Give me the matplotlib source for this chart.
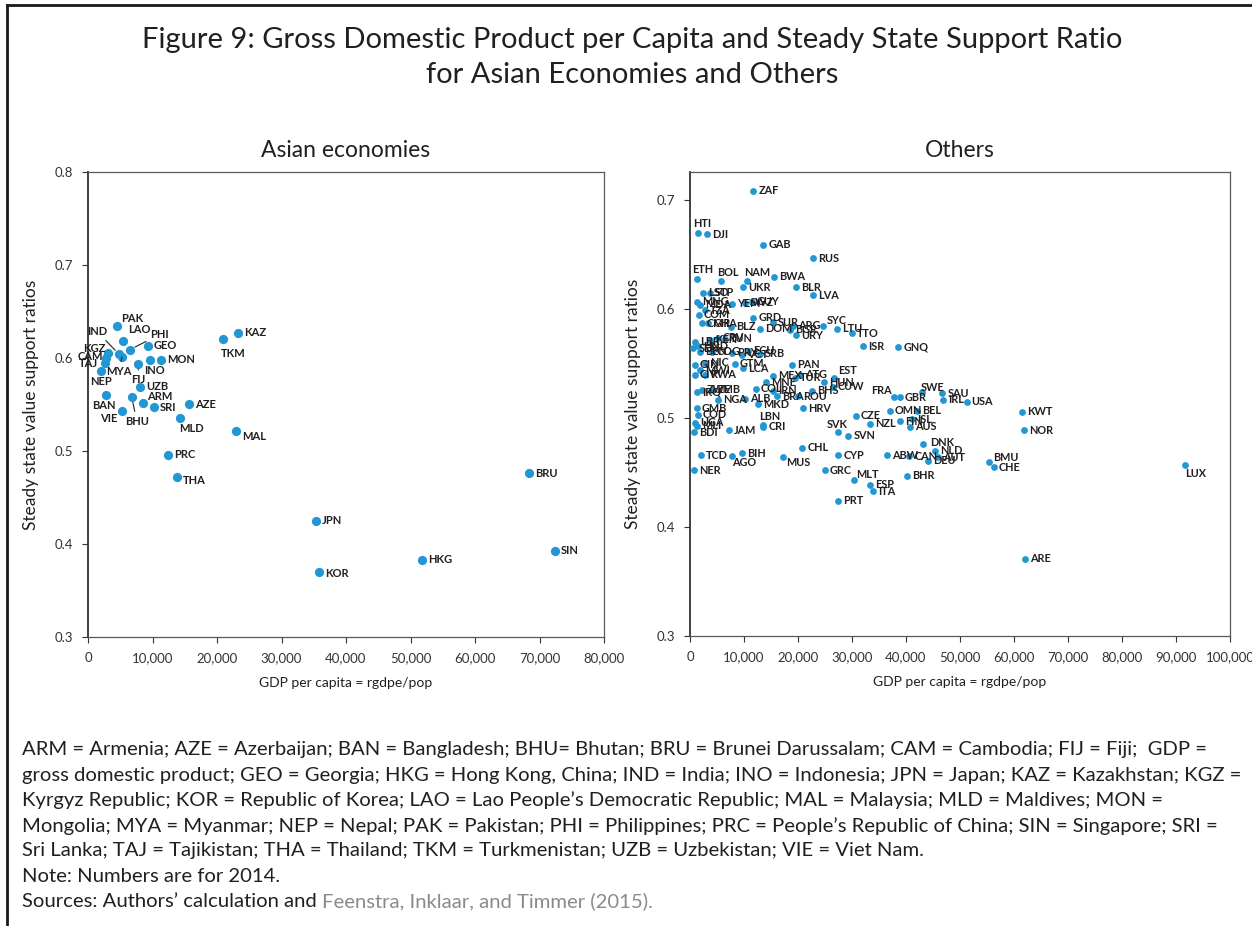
import matplotlib
matplotlib.use("Agg")
import matplotlib.pyplot as plt
from matplotlib.ticker import FuncFormatter, MultipleLocator
from matplotlib.lines import Line2D
from matplotlib.text import Annotation

plt.rcParams['font.family'] = ['Lato', 'DejaVu Sans']

# ---- data: GDP per capita (rgdpe/pop) and steady state support ratio, 2014
asia_codes = ["PAK", "LAO", "PHI", "GEO", "IND", "MYA", "KGZ", "CAM", "TAJ", "NEP",
              "INO", "FIJ", "MON", "UZB", "BAN", "BHU", "ARM", "SRI", "VIE", "AZE",
              "MLD", "MAL", "TKM", "KAZ", "PRC", "THA", "JPN", "KOR", "HKG", "BRU", "SIN"]
asia_gdp = [4540, 5380, 6510, 9260, 4810, 5270, 3150, 2790, 2640, 1970,
            9660, 7800, 11320, 8060, 2740, 6780, 8480, 10230, 5230, 15700,
            14260, 22950, 20880, 23300, 12400, 13800, 35350, 35810, 51780, 68370, 72400]
asia_ratio = [0.634, 0.618, 0.609, 0.613, 0.604, 0.601, 0.605, 0.600, 0.595, 0.586,
              0.598, 0.594, 0.598, 0.569, 0.560, 0.558, 0.552, 0.547, 0.543, 0.550,
              0.536, 0.521, 0.620, 0.627, 0.496, 0.472, 0.425, 0.370, 0.383, 0.476, 0.393]

other_codes = ["ZAF", "HTI", "DJI", "GAB", "RUS", "ETH", "BOL", "NAM", "BWA", "UKR",
               "BLR", "LVA", "LSO", "STP", "MNG", "MDA", "YEM", "SWZ", "GUY", "TZA",
               "COM", "GHA", "CMR", "GRD", "SUR", "ARG", "BGR", "URY", "SYC", "LTU",
               "TTO", "ISR", "GNQ", "KEN", "BLZ", "DOM", "TUN", "CPV", "LBR", "HND",
               "SEN", "BEN", "COG", "VCT", "SRB", "ECU", "PRY", "GIN", "NIC", "MWI",
               "CIV", "RWA", "GTM", "LCA", "PAN", "MEX", "ATG", "TUR", "MNE", "EST",
               "HUN", "CUW", "BHS", "ROU", "IRN", "BRA", "COL", "ALB", "MKD", "NGA",
               "ZMB", "IRQ", "ZWE", "HRV", "GMB", "COD", "UGA", "MLI", "BDI", "JAM",
               "LBN", "CRI", "SVK", "SVN", "CZE", "NZL", "FIN", "ISL", "AUS", "OMN",
               "BEL", "FRA", "GBR", "SWE", "SAU", "IRL", "USA", "KWT", "NOR", "DNK",
               "NLD", "AUT", "CAN", "ABW", "DEU", "CYP", "CHL", "MUS", "BIH", "AGO",
               "TCD", "NER", "GRC", "MLT", "ESP", "ITA", "PRT", "BHR", "BMU", "CHE",
               "LUX", "ARE"]
other_gdp = [11720, 1540, 3090, 13570, 22830, 1240, 5740, 10500, 15560, 9870,
             19570, 22720, 2460, 3700, 1240, 1850, 7720, 10190, 11480, 2780,
             1670, 3390, 2170, 11720, 15370, 19070, 18520, 19630, 24630, 27170,
             30060, 32090, 38570, 3700, 7590, 12960, 6480, 5190, 930, 1540,
             610, 1850, 4070, 9630, 12960, 10740, 7780, 930, 2780, 1850,
             930, 2780, 8330, 9870, 18940, 15310, 20370, 19440, 14070, 26670,
             24870, 26480, 22540, 20060, 15370, 16060, 12220, 10190, 12650, 5240,
             4070, 1240, 2170, 20870, 1240, 1480, 930, 1350, 740, 7220,
             13460, 13570, 27460, 29310, 30690, 33330, 38890, 41110, 40740, 37040,
             41980, 37780, 38890, 42910, 46720, 46910, 51240, 61480, 61850, 43200,
             45370, 45980, 40610, 36430, 44130, 27460, 20800, 17280, 9690, 7720,
             1980, 800, 25000, 30430, 33330, 33830, 27460, 40130, 55370, 56300,
             91610, 61980]
other_ratio = [0.709, 0.670, 0.669, 0.659, 0.647, 0.628, 0.626, 0.626, 0.630, 0.620,
               0.620, 0.613, 0.615, 0.615, 0.607, 0.604, 0.605, 0.606, 0.607, 0.599,
               0.595, 0.587, 0.587, 0.592, 0.588, 0.585, 0.581, 0.576, 0.585, 0.582,
               0.578, 0.566, 0.565, 0.572, 0.584, 0.582, 0.573, 0.574, 0.570, 0.566,
               0.564, 0.561, 0.561, 0.558, 0.559, 0.562, 0.560, 0.549, 0.551, 0.544,
               0.540, 0.540, 0.550, 0.546, 0.549, 0.539, 0.540, 0.537, 0.533, 0.537,
               0.533, 0.529, 0.525, 0.520, 0.525, 0.520, 0.527, 0.518, 0.513, 0.517,
               0.526, 0.524, 0.526, 0.509, 0.509, 0.503, 0.496, 0.493, 0.487, 0.489,
               0.494, 0.492, 0.487, 0.484, 0.502, 0.495, 0.497, 0.499, 0.492, 0.507,
               0.507, 0.519, 0.519, 0.524, 0.523, 0.517, 0.515, 0.506, 0.489, 0.476,
               0.470, 0.464, 0.465, 0.466, 0.461, 0.466, 0.473, 0.464, 0.468, 0.465,
               0.466, 0.452, 0.452, 0.443, 0.439, 0.433, 0.424, 0.447, 0.460, 0.455,
               0.457, 0.371]

asia_xticks = [0, 10000, 20000, 30000, 40000, 50000, 60000, 70000, 80000]
other_xticks = [0, 10000, 20000, 30000, 40000, 50000, 60000, 70000, 80000, 90000, 100000]

# label placement (offset in pixels, ha, leader line)
asia_pos = {
    "PAK": (4, 8, "left", False), "LAO": (5, 12, "left", False),
    "PHI": (20, 15, "left", True), "IND": (-12, 23, "right", True),
    "KGZ": (-3, 5, "right", False), "CAM": (-3, 1, "right", False),
    "TAJ": (-7, -1, "right", False), "NEP": (0, -10, "center", False),
    "MYA": (-3, -14, "center", True), "INO": (-6, -11, "left", False),
    "FIJ": (0, -16, "center", True), "BAN": (-2, -10, "center", False),
    "BHU": (5, -24, "center", True), "ARM": (4, 6, "left", False),
    "VIE": (-4, -7, "right", False), "MLD": (11, -11, "center", False),
    "MAL": (6, -5, "left", False), "TKM": (11, -14, "center", False),
    "THA": (6, -3, "left", False), "KOR": (6, -2, "left", False),
}
other_pos = {
    "HTI": (4, 9, "center"), "ETH": (6, 9, "center"), "BOL": (7, 8, "center"),
    "NAM": (10, 8, "center"), "SYC": (14, 5, "center"), "SWE": (11, 5, "center"),
    "DNK": (7, 2, "left"), "LBN": (7, 8, "center"), "MLT": (2, 6, "left"),
    "BMU": (4, 4, "left"), "EST": (4, 7, "left"), "SVK": (-1, 8, "center"),
    "FRA": (-2, 7, "right"), "AGO": (0, -6, "left"), "MUS": (3, -5, "left"),
    "LUX": (0, -9, "left"),
}

dot = "#2297d4"
ink = "#231f20"
grey = "#333333"

fig = plt.figure(figsize=(12.52, 9.26), dpi=100)

# frame around the figure
fig.add_artist(Line2D([7 / 1252, 1.0], [1 - 5 / 926, 1 - 5 / 926], color="#1a1a1a", lw=2))
fig.add_artist(Line2D([7 / 1252, 7 / 1252], [0.0, 1 - 5 / 926], color="#1a1a1a", lw=2))

fig.text(0.505, 1 - 40 / 926, "Figure 9: Gross Domestic Product per Capita and Steady State Support Ratio",
         ha="center", va="center", fontsize=21, color=ink)
fig.text(0.505, 1 - 75 / 926, "for Asian Economies and Others",
         ha="center", va="center", fontsize=21, color=ink)

ax1 = fig.add_axes([88 / 1252, 1 - 637 / 926, 516 / 1252, 465 / 926])
ax2 = fig.add_axes([690 / 1252, 1 - 636 / 926, 540 / 1252, 464 / 926])

comma = FuncFormatter(lambda v, p: f"{v:,.0f}")
onedec = FuncFormatter(lambda v, p: f"{v:.1f}")

for ax, title, xt in [(ax1, "Asian economies", asia_xticks), (ax2, "Others", other_xticks)]:
    ax.set_title(title, fontsize=16.5, color=ink, pad=11)
    ax.set_xticks(xt)
    ax.set_xlim(xt[0], xt[-1])
    ax.xaxis.set_major_formatter(comma)
    ax.yaxis.set_major_locator(MultipleLocator(0.1))
    ax.yaxis.set_major_formatter(onedec)
    ax.set_xlabel("GDP per capita = rgdpe/pop", fontsize=10, color=ink, labelpad=9)
    ax.set_ylabel("Steady state value support ratios", fontsize=12.5, color=ink, labelpad=11)
    ax.tick_params(labelsize=9.5, colors=grey, length=4, width=0.8, pad=7)
    for s in ax.spines.values():
        s.set_color("#595959")
        s.set_linewidth(0.9)
    ax.spines["left"].set_linewidth(1.3)
    ax.spines["left"].set_color("#333333")

ax1.set_ylim(0.3, 0.8)
ax2.set_ylim(0.3, 0.726)

ax1.scatter(asia_gdp, asia_ratio, s=44, color=dot, zorder=3, linewidths=0)
for c, x, y in zip(asia_codes, asia_gdp, asia_ratio):
    dx, dy, ha, lead = asia_pos.get(c, (6, 0, "left", False))
    arrow = dict(arrowstyle="-", color=ink, lw=0.8, shrinkA=1, shrinkB=4) if lead else None
    ax1.annotate(c, (x, y), xytext=(dx, dy), textcoords="offset pixels",
                 ha=ha, va="center", fontsize=8, fontweight="bold", color=ink,
                 arrowprops=arrow, zorder=4)

ax2.scatter(other_gdp, other_ratio, s=24, color=dot, zorder=3, linewidths=0)
for c, x, y in zip(other_codes, other_gdp, other_ratio):
    dx, dy, ha = other_pos.get(c, (5, 0, "left"))
    ax2.annotate(c, (x, y), xytext=(dx, dy), textcoords="offset pixels",
                 ha=ha, va="center", fontsize=7.8, fontweight="bold", color=ink, zorder=4)

notes = [
    "ARM = Armenia; AZE = Azerbaijan; BAN = Bangladesh; BHU= Bhutan; BRU = Brunei Darussalam; CAM = Cambodia; FIJ = Fiji;  GDP =",
    "gross domestic product; GEO = Georgia; HKG = Hong Kong, China; IND = India; INO = Indonesia; JPN = Japan; KAZ = Kazakhstan; KGZ =",
    "Kyrgyz Republic; KOR = Republic of Korea; LAO = Lao People\u2019s Democratic Republic; MAL = Malaysia; MLD = Maldives; MON =",
    "Mongolia; MYA = Myanmar; NEP = Nepal; PAK = Pakistan; PHI = Philippines; PRC = People\u2019s Republic of China; SIN = Singapore; SRI =",
    "Sri Lanka; TAJ = Tajikistan; THA = Thailand; TKM = Turkmenistan; UZB = Uzbekistan; VIE = Viet Nam.",
    "Note: Numbers are for 2014.",
]
y0 = 750
fs = 14.6
for i, line in enumerate(notes):
    fig.text(22 / 1252, 1 - (y0 + 25.2 * i) / 926, line, ha="left", va="center",
             fontsize=fs, color=ink)
src = fig.text(22 / 1252, 1 - (y0 + 25.2 * 6) / 926, "Sources: Authors\u2019 calculation and ",
               ha="left", va="center", fontsize=fs, color=ink)
fig.add_artist(Annotation("Feenstra, Inklaar, and Timmer (2015).", xy=(1, 0.5), xycoords=src,
                          ha="left", va="center", fontsize=fs, color="#8a8a8a"))

fig.savefig("out.png", dpi=100)
